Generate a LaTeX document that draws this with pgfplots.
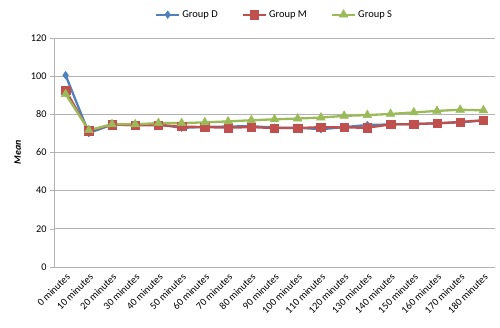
\documentclass[border=0pt]{standalone}
\usepackage{fontspec}
\setmainfont{Carlito}
\usepackage{pgfplots}
\pgfplotsset{compat=1.18}
\definecolor{cD}{HTML}{4F81BD}
\definecolor{cM}{HTML}{C0504D}
\definecolor{cS}{HTML}{9BBB59}
\definecolor{gridc}{HTML}{B3B3B3}
\begin{document}
\begin{tikzpicture}
\begin{axis}[
  scale only axis,
  width=441bp, height=229bp,
  xmin=-0.5, xmax=18.5,
  ymin=0, ymax=120,
  ytick={0,20,...,120},
  xtick={0,...,18},
  xticklabels={0 minutes,10 minutes,20 minutes,30 minutes,40 minutes,50 minutes,60 minutes,70 minutes,80 minutes,90 minutes,100 minutes,110 minutes,120 minutes,130 minutes,140 minutes,150 minutes,160 minutes,170 minutes,180 minutes},
  x tick label style={rotate=45, anchor=north east, inner sep=1pt, font=\fontsize{10.3}{11}\selectfont},
  y tick label style={font=\fontsize{10.3}{11}\selectfont},
  /pgf/number format/assume math mode=true,
  extra x ticks={-0.5,0.5,...,18.5},
  extra x tick labels={},
  extra x tick style={major tick length=4bp, tick style={gridc}},
  major x tick style={draw=none},
  tick align=outside,
  major tick length=4bp,
  tick style={gridc, line width=0.6pt},
  axis x line*=bottom,
  axis y line*=left,
  axis line style={gridc, line width=0.8pt, -},
  ymajorgrids,
  grid style={gridc, line width=0.8pt},
  ylabel={\textbf{\textit{Mean}}},
  ylabel style={font=\fontsize{10}{11}\selectfont, yshift=3bp},
  legend style={at={(0.5,1)}, anchor=south, yshift=16bp, draw=none, legend columns=-1, font=\fontsize{10.5}{11}\selectfont, inner sep=1pt,
    /tikz/every even column/.append style={column sep=22bp}},
  legend image code/.code={\draw[mark repeat=2,mark phase=2] plot coordinates {(0bp,0bp) (11.5bp,0bp) (23bp,0bp)};},
  every axis plot/.append style={line width=2.3bp},
]
\addplot[cD, mark=diamond*, mark size=3.8bp, mark options={line width=0.5pt}] coordinates {
(0,100.5)(1,70.2)(2,74.6)(3,74.4)(4,74.8)(5,72.9)(6,73.4)(7,73.6)(8,73.8)(9,73.0)(10,73.0)(11,72.2)(12,73.3)(13,74.4)(14,74.7)(15,74.9)(16,75.3)(17,75.8)(18,76.8)};
\addlegendentry{Group D}
\addplot[cM, mark=square*, mark size=4.2bp, mark options={line width=0.5pt}] coordinates {
(0,92.6)(1,71.3)(2,74.6)(3,74.3)(4,74.3)(5,73.6)(6,73.3)(7,73.0)(8,73.3)(9,72.8)(10,72.8)(11,73.3)(12,73.1)(13,73.0)(14,74.7)(15,74.9)(16,75.3)(17,76.0)(18,76.9)};
\addlegendentry{Group M}
\addplot[cS, mark=triangle*, mark size=5bp, mark options={line width=0.5pt}] coordinates {
(0,90.6)(1,71.7)(2,74.8)(3,74.8)(4,75.4)(5,75.4)(6,75.8)(7,76.3)(8,76.9)(9,77.4)(10,77.8)(11,78.3)(12,79.2)(13,79.6)(14,80.2)(15,81.0)(16,81.8)(17,82.4)(18,82.1)};
\addlegendentry{Group S}
\end{axis}
\path ([xshift=-54bp,yshift=-61bp]current axis.south west) rectangle ([xshift=5bp,yshift=38bp]current axis.north east);
\end{tikzpicture}
\end{document}
